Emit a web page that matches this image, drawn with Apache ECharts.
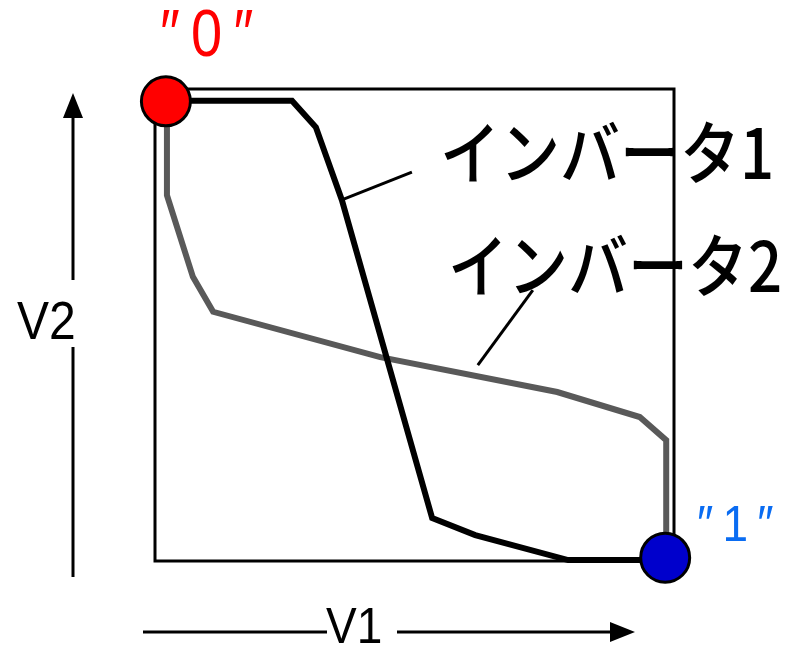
<!DOCTYPE html>
<html>
<head>
<meta charset="utf-8">
<script src="https://cdn.jsdelivr.net/npm/echarts@6/dist/echarts.min.js"></script>
<style>
  html, body { margin: 0; padding: 0; background: #fff; }
  #chart { width: 797px; height: 648px; }
</style>
</head>
<body>
<div id="chart"></div>
<script>
// Transfer curves of two inverters, normalised V1 (input) vs V2 (output)
const inv1V1 = [0.021, 0.264, 0.310, 0.360, 0.534, 0.617, 0.796, 0.983];
const inv1V2 = [0.975, 0.975, 0.919, 0.765, 0.091, 0.055, 0.002, 0.002];

const inv2V1 = [0.023, 0.023, 0.073, 0.112, 0.434, 0.775, 0.934, 0.985, 0.985];
const inv2V2 = [0.975, 0.775, 0.602, 0.528, 0.432, 0.358, 0.305, 0.256, 0.006];

// Stable states: "0" (top-left) and "1" (bottom-right)
const stateV1 = [0.021, 0.983];
const stateV2 = [0.974, 0.007];
const stateNames = ['″\u20090\u2009″', '″\u20091\u2009″'];

// Leader lines from curve to its name
const lead1V1 = [0.360, 0.495];
const lead1V2 = [0.765, 0.824];
const lead2V1 = [0.622, 0.728];
const lead2V2 = [0.415, 0.574];

const seriesNames = ['インバータ1', 'インバータ2'];
const axisNames = ['V1', 'V2'];

const pairs = (xs, ys) => xs.map((x, i) => [x, ys[i]]);

const chart = echarts.init(document.getElementById('chart'), null, { renderer: 'canvas' });

const latin = '"Liberation Sans", "DejaVu Sans", sans-serif';
const cjk = '"Noto Sans CJK JP", sans-serif';

function label(text, x, y, size, sy, color, family, weight) {
  return {
    type: 'text', x: x, y: y, scaleY: sy, z: 20,
    style: {
      text: text, fill: color, font: (weight || 'normal') + ' ' + size + 'px ' + family,
      textAlign: 'left', textVerticalAlign: 'middle',
      align: 'left', verticalAlign: 'middle'
    }
  };
}

const option = {
  animation: false,
  backgroundColor: '#fff',
  grid: {
    left: 155, top: 89, width: 519, height: 472,
    show: true, borderColor: '#000', borderWidth: 3, backgroundColor: 'transparent'
  },
  xAxis: {
    type: 'value', min: 0, max: 1,
    axisLine: { show: false }, axisTick: { show: false },
    axisLabel: { show: false }, splitLine: { show: false }
  },
  yAxis: {
    type: 'value', min: 0, max: 1,
    axisLine: { show: false }, axisTick: { show: false },
    axisLabel: { show: false }, splitLine: { show: false }
  },
  series: [
    {
      name: seriesNames[1], type: 'line', data: pairs(inv2V1, inv2V2),
      showSymbol: false, symbol: 'none', z: 3, clip: false,
      lineStyle: { color: '#595959', width: 6, join: 'miter', cap: 'butt' }
    },
    {
      name: seriesNames[0], type: 'line', data: pairs(inv1V1, inv1V2),
      showSymbol: false, symbol: 'none', z: 4, clip: false,
      lineStyle: { color: '#000', width: 6, join: 'miter', cap: 'butt' }
    },
    {
      type: 'line', data: pairs(lead1V1, lead1V2), showSymbol: false, symbol: 'none', z: 4,
      lineStyle: { color: '#000', width: 3 }
    },
    {
      type: 'line', data: pairs(lead2V1, lead2V2), showSymbol: false, symbol: 'none', z: 4,
      lineStyle: { color: '#000', width: 3 }
    },
    {
      type: 'scatter', z: 6, clip: false,
      data: [
        { value: [stateV1[0], stateV2[0]], name: stateNames[0], itemStyle: { color: '#ff0000' } },
        { value: [stateV1[1], stateV2[1]], name: stateNames[1], itemStyle: { color: '#0000cc' } }
      ],
      symbol: 'circle', symbolSize: 49,
      itemStyle: { borderColor: '#000', borderWidth: 3, opacity: 1 }
    }
  ],
  graphic: [
    // V2 axis arrow (vertical, with gap for its name)
    { type: 'line', shape: { x1: 73, y1: 577, x2: 73, y2: 347 }, style: { stroke: '#000', lineWidth: 3 } },
    { type: 'line', shape: { x1: 73, y1: 280, x2: 73, y2: 114 }, style: { stroke: '#000', lineWidth: 3 } },
    { type: 'polygon', shape: { points: [[63, 118], [83, 118], [73, 93]] }, style: { fill: '#000' } },
    // V1 axis arrow (horizontal, with gap for its name)
    { type: 'line', shape: { x1: 143, y1: 632, x2: 327, y2: 632 }, style: { stroke: '#000', lineWidth: 3 } },
    { type: 'line', shape: { x1: 397, y1: 632, x2: 614, y2: 632 }, style: { stroke: '#000', lineWidth: 3 } },
    { type: 'polygon', shape: { points: [[610, 622], [610, 642], [635, 632]] }, style: { fill: '#000' } },
    label(axisNames[0], 326, 629, 46, 1.1, '#000', latin),
    label(axisNames[1], 17, 324, 48, 1.1, '#000', latin),
    label(seriesNames[0], 440, 153, 60, 1.15, '#000', cjk, 500),
    label(seriesNames[1], 448, 266, 60, 1.15, '#000', cjk, 500),
    label(stateNames[0], 160, 37, 56, 1.2, '#ff0000', latin),
    label(stateNames[1], 697, 527, 46, 1.1, '#0a6cf2', latin)
  ]
};

chart.setOption(option);
</script>
</body>
</html>
